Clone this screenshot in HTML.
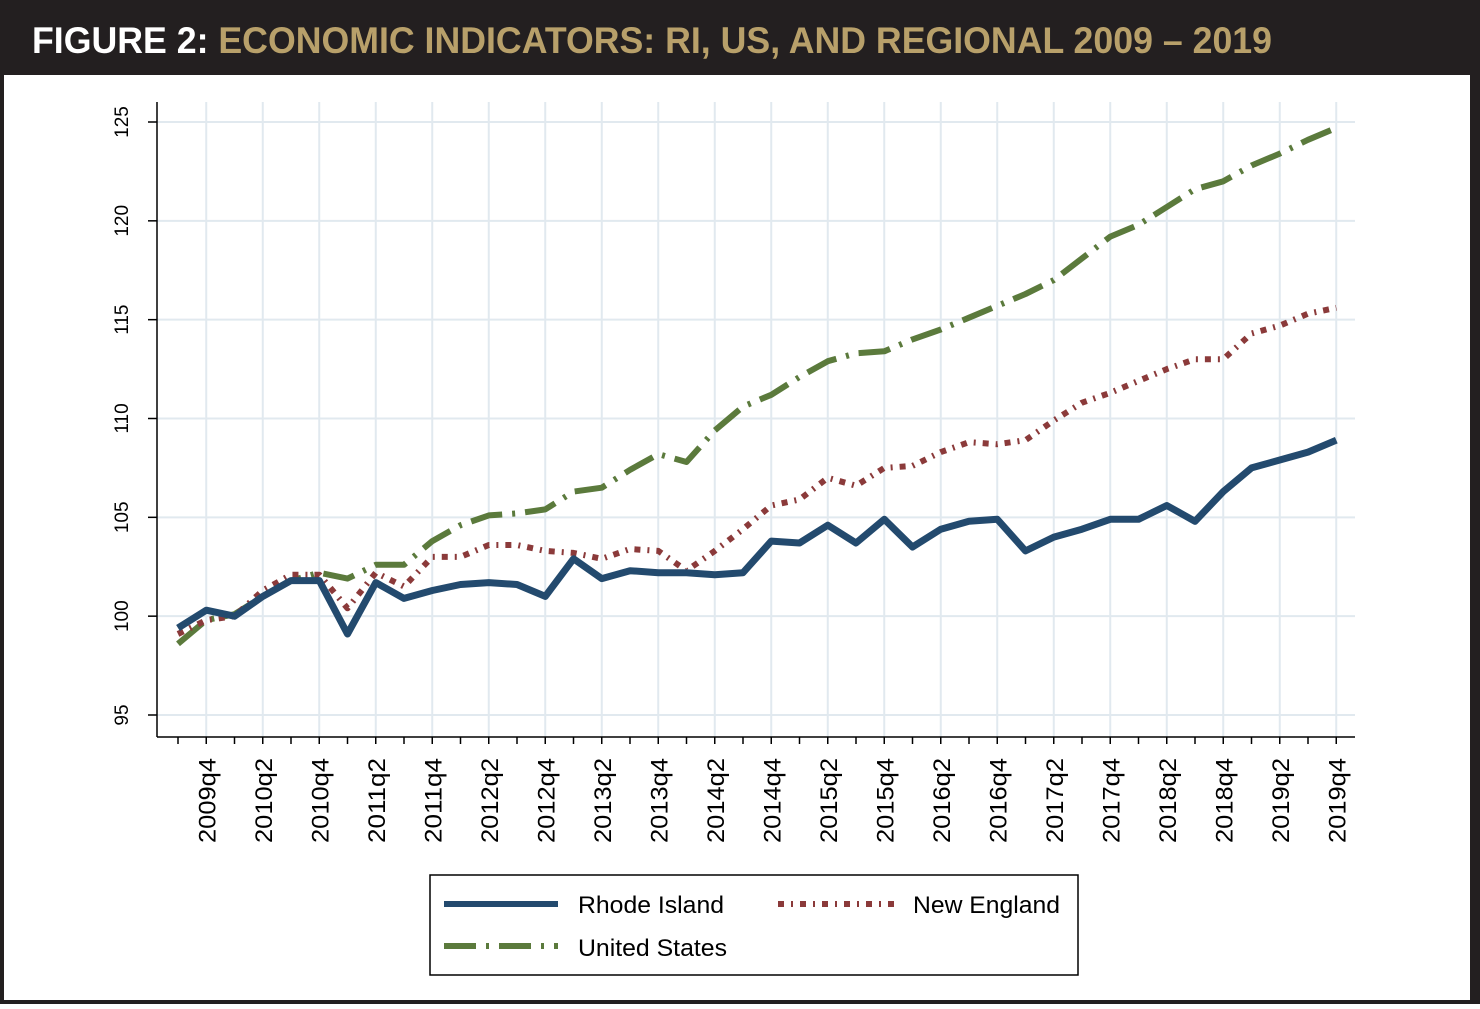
<!DOCTYPE html>
<html><head><meta charset="utf-8"><style>
html,body{margin:0;padding:0;background:#fff;}
body{width:1480px;height:1004px;overflow:hidden;}
</style></head><body>
<svg id="chart" width="1480" height="1004" xmlns="http://www.w3.org/2000/svg">
<rect x="0" y="0" width="1480" height="1004" fill="#231f20"/>
<rect x="4" y="75" width="1466" height="925" fill="#ffffff"/>
<text x="32" y="53" font-family="'Liberation Sans',sans-serif" font-size="37" font-weight="bold" textLength="1240" lengthAdjust="spacingAndGlyphs"><tspan fill="#ffffff">FIGURE 2: </tspan><tspan fill="#b8a06a">ECONOMIC INDICATORS: RI, US, AND REGIONAL 2009 – 2019</tspan></text>
<g id="grid"></g><g id="axes"></g><g id="series"></g>
<g>
<rect x="430" y="875" width="648" height="100" fill="#fff" stroke="#000" stroke-width="1.5"/>
<line x1="444" y1="904" x2="558" y2="904" stroke="#234a6e" stroke-width="6"/>
<text x="578" y="913" font-family="'Liberation Sans',sans-serif" font-size="24" textLength="146" lengthAdjust="spacingAndGlyphs" fill="#000">Rhode Island</text>
<line x1="778" y1="904" x2="895" y2="904" stroke="#8b3a3a" stroke-width="6" stroke-dasharray="6,7,2,7"/>
<text x="913" y="913" font-family="'Liberation Sans',sans-serif" font-size="24" textLength="147" lengthAdjust="spacingAndGlyphs" fill="#000">New England</text>
<line x1="444" y1="946" x2="558" y2="946" stroke="#5b7a3c" stroke-width="6" stroke-dasharray="32,10,3,10"/>
<text x="578" y="956" font-family="'Liberation Sans',sans-serif" font-size="24" textLength="149" lengthAdjust="spacingAndGlyphs" fill="#000">United States</text>
</g>
</svg>
<script>
const quarters = ["2009q3","2009q4","2010q1","2010q2","2010q3","2010q4","2011q1","2011q2","2011q3","2011q4","2012q1","2012q2","2012q3","2012q4","2013q1","2013q2","2013q3","2013q4","2014q1","2014q2","2014q3","2014q4","2015q1","2015q2","2015q3","2015q4","2016q1","2016q2","2016q3","2016q4","2017q1","2017q2","2017q3","2017q4","2018q1","2018q2","2018q3","2018q4","2019q1","2019q2","2019q3","2019q4"];
const rhodeIsland = [99.4,100.3,100.0,101.0,101.8,101.8,99.1,101.7,100.9,101.3,101.6,101.7,101.6,101.0,102.9,101.9,102.3,102.2,102.2,102.1,102.2,103.8,103.7,104.6,103.7,104.9,103.5,104.4,104.8,104.9,103.3,104.0,104.4,104.9,104.9,105.6,104.8,106.3,107.5,107.9,108.3,108.9];
const newEngland = [99.1,99.8,100.0,101.3,102.1,102.1,100.4,102.2,101.5,103.0,103.0,103.6,103.6,103.3,103.2,102.9,103.4,103.3,102.3,103.3,104.4,105.6,105.9,107.0,106.6,107.5,107.6,108.3,108.8,108.7,108.9,109.9,110.8,111.3,111.9,112.5,113.0,113.0,114.3,114.7,115.3,115.6];
const unitedStates = [98.6,99.8,100.1,101.0,101.8,102.2,101.9,102.6,102.6,103.8,104.6,105.1,105.2,105.4,106.3,106.5,107.4,108.2,107.8,109.4,110.6,111.2,112.1,112.9,113.3,113.4,114.0,114.5,115.1,115.7,116.3,117.0,118.1,119.2,119.8,120.7,121.6,122.0,122.8,123.4,124.1,124.7];
const yTicks = [95,100,105,110,115,120,125];

const NS="http://www.w3.org/2000/svg";
const xS = i => 178 + i*28.25;
const yS = v => 122 + (125-v)*(593/30);
function mk(tag, attrs, parent){const e=document.createElementNS(NS,tag);for(const k in attrs)e.setAttribute(k,attrs[k]);parent.appendChild(e);return e;}
const grid=document.getElementById('grid'), axes=document.getElementById('axes'), series=document.getElementById('series');
const font="'Liberation Sans',sans-serif";
yTicks.forEach(v=>{
  const g=mk('line',{x1:157,x2:1355,y1:yS(v),y2:yS(v),stroke:'#e1e9ef','stroke-width':2},grid);
  
  
  mk('line',{x1:148,x2:157,y1:yS(v),y2:yS(v),stroke:'#000','stroke-width':1.5},axes);
  const t=mk('text',{x:0,y:0,transform:`translate(128,${yS(v)}) rotate(-90)`,'text-anchor':'middle','font-family':font,'font-size':19,fill:'#000'},axes);
  t.textContent=v;
  
  
});
quarters.forEach((q,i)=>{
  const x=xS(i);
  mk('line',{x1:x,x2:x,y1:737,y2:744,stroke:'#000','stroke-width':1.5},axes);
  if(i%2===1){
    const g=mk('line',{x1:x,x2:x,y1:102,y2:737,stroke:'#e1e9ef','stroke-width':2},grid);
    
    
    const t=mk('text',{x:0,y:0,transform:`translate(${x+9},${758}) rotate(-90)`,'text-anchor':'end','font-family':font,'font-size':24,textLength:85,lengthAdjust:'spacingAndGlyphs',fill:'#000'},axes);
    t.textContent=q;
    
    
  }
});
const ya=mk('line',{x1:157,x2:157,y1:102,y2:737,stroke:'#000','stroke-width':1.5},axes);


const xa=mk('line',{x1:157,x2:1355,y1:737,y2:737,stroke:'#000','stroke-width':1.5},axes);


function line(vals,color,dash,name,w){
  const d=vals.map((v,i)=>(i?'L':'M')+xS(i).toFixed(1)+','+yS(v).toFixed(1)).join('');
  const p=mk('path',{d,fill:'none',stroke:color,'stroke-width':w,'stroke-linejoin':'round'},series);
  if(dash)p.setAttribute('stroke-dasharray',dash);
  
  
}
line(unitedStates,'#5b7a3c','32,10,3,10','united-states-line',6);
line(newEngland,'#8b3a3a','6,7,2,7','new-england-line',6);
line(rhodeIsland,'#234a6e',null,'rhode-island-line',7);
</script>
</body></html>
